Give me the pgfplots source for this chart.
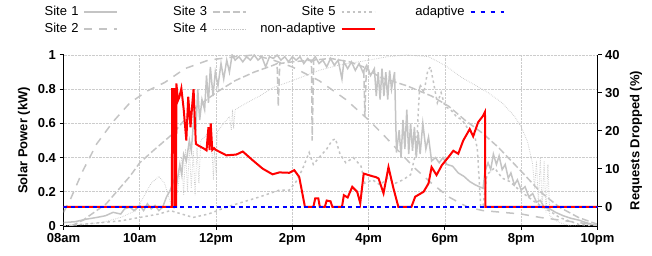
\documentclass[border=0pt]{standalone}
\usepackage{pgfplots}
\pgfplotsset{compat=1.18}
\usepackage{fontspec}
\setmainfont{Liberation Sans}
\definecolor{sg}{RGB}{196,196,196}
\begin{document}
\begin{tikzpicture}[font=\fontsize{13pt}{15pt}\selectfont]
\useasboundingbox (-63.5pt,-30pt) rectangle (588.5pt,226pt);
\begin{axis}[
 at={(0pt,0pt)}, anchor=south west, scale only axis, width=534pt, height=171pt,
 xmin=8, xmax=22, ymin=0, ymax=1,
 axis x line*=bottom, axis y line*=left,
 axis line style={-, line width=1.2pt},
 xtick={8,10,12,14,16,18,20,22}, xticklabels={08am,10am,12pm,2pm,4pm,6pm,8pm,10pm},
 ytick={0,0.2,0.4,0.6,0.8,1}, yticklabels={0,0.2,0.4,0.6,0.8,1},
 tick align=outside, major tick length=4pt,
 every tick/.style={black, line width=1pt},
 ticklabel style={font=\fontsize{13pt}{15pt}\selectfont\bfseries},
 grid=major, major grid style={densely dotted, gray!40, line width=0.6pt},
 ylabel={\bfseries Solar Power (kW)},
 ylabel style={at={(axis description cs:-0.074,0.5)}, anchor=center},
]
% Site 1
\addplot[sg, line width=1.5pt] coordinates {(8.0,0.02)(8.3,0.025)(8.6,0.04)(8.87,0.05)(9.1,0.06)(9.3,0.08)(9.5,0.07)(9.6,0.10)(9.74,0.11)(9.85,0.09)(10.0,0.12)(10.1,0.09)(10.2,0.13)(10.3,0.10)(10.4,0.12)(10.5,0.09)(10.6,0.11)(10.7,0.17)(10.8,0.21)(10.9,0.27)(10.95,0.22)(11.05,0.36)(11.1,0.30)(11.15,0.42)(11.22,0.38)(11.3,0.50)(11.35,0.44)(11.42,0.64)(11.47,0.56)(11.52,0.80)(11.57,0.62)(11.63,0.74)(11.7,0.68)(11.75,0.88)(11.8,0.72)(11.85,0.93)(11.92,0.76)(11.98,0.90)(12.05,0.82)(12.13,0.95)(12.2,0.86)(12.28,0.97)(12.35,0.90)(12.42,1.0)(12.5,0.97)(12.6,0.99)(12.7,0.96)(12.8,0.99)(12.9,0.97)(13.0,1.0)(13.1,0.97)(13.2,0.99)(13.3,0.93)(13.4,0.99)(13.5,0.98)(13.6,1.0)(13.7,0.97)(13.8,0.99)(13.9,0.96)(14.0,0.99)(14.1,0.97)(14.2,0.99)(14.3,0.95)(14.4,0.98)(14.5,0.96)(14.6,0.99)(14.7,0.95)(14.8,0.97)(14.9,0.93)(15.0,0.98)(15.1,0.94)(15.2,0.97)(15.3,0.86)(15.35,0.96)(15.45,0.92)(15.55,0.96)(15.65,0.91)(15.75,0.95)(15.85,0.90)(15.95,0.94)(16.05,0.88)(16.15,0.92)(16.2,0.76)(16.25,0.90)(16.3,0.74)(16.35,0.92)(16.4,0.76)(16.45,0.90)(16.5,0.74)(16.55,0.91)(16.6,0.80)(16.68,0.90)(16.73,0.43)(16.8,0.56)(16.85,0.40)(16.9,0.62)(16.95,0.45)(17.0,0.68)(17.05,0.42)(17.1,0.60)(17.15,0.44)(17.2,0.58)(17.25,0.40)(17.3,0.55)(17.35,0.42)(17.42,0.60)(17.5,0.45)(17.57,0.52)(17.65,0.38)(17.75,0.40)(17.85,0.37)(17.95,0.40)(18.05,0.36)(18.2,0.35)(18.35,0.31)(18.5,0.29)(18.65,0.26)(18.8,0.24)(18.9,0.23)(19.0,0.22)(19.05,0.32)(19.13,0.37)(19.2,0.33)(19.27,0.42)(19.35,0.36)(19.42,0.41)(19.5,0.33)(19.58,0.36)(19.66,0.28)(19.73,0.31)(19.82,0.24)(19.9,0.27)(20.0,0.21)(20.1,0.23)(20.2,0.17)(20.3,0.19)(20.4,0.14)(20.5,0.15)(20.6,0.11)(20.75,0.10)(20.9,0.08)(21.1,0.06)(21.3,0.045)(21.5,0.035)(21.7,0.02)(22.0,0.0)};
% Site 2
\addplot[sg, line width=1.5pt, dash pattern=on 8pt off 7pt] coordinates {(8.0,0.08)(8.17,0.15)(8.5,0.32)(8.87,0.48)(9.3,0.61)(9.74,0.72)(10.2,0.79)(10.66,0.84)(11.18,0.92)(11.8,0.97)(12.5,0.99)(13.0,1.0)(13.5,0.97)(14.0,0.93)(14.7,0.85)(15.4,0.74)(16.0,0.62)(16.4,0.53)(16.78,0.44)(17.2,0.34)(17.65,0.25)(18.1,0.17)(18.6,0.11)(19.0,0.09)(19.5,0.08)(20.0,0.07)(20.5,0.05)(21.0,0.035)(21.5,0.02)(22.0,0.005)};
% Site 3
\addplot[sg, line width=1.5pt, dash pattern=on 7pt off 3pt] coordinates {(8.2,0.0)(8.52,0.035)(9.12,0.13)(9.74,0.29)(10.0,0.37)(10.35,0.44)(10.87,0.54)(11.4,0.68)(12.0,0.78)(12.5,0.85)(13.0,0.90)(13.5,0.94)(13.6,0.95)(13.63,0.70)(13.67,0.95)(14.0,0.96)(14.5,0.97)(14.52,0.50)(14.56,0.97)(15.0,0.98)(15.5,0.96)(15.87,0.93)(15.9,0.64)(15.94,0.92)(16.3,0.87)(17.0,0.82)(17.65,0.76)(18.1,0.70)(18.52,0.62)(19.0,0.54)(19.4,0.46)(20.0,0.32)(20.5,0.20)(21.0,0.11)(21.5,0.05)(22.0,0.01)};
% Site 4
\addplot[sg, line width=0.8pt, dash pattern=on 0.6pt off 1.2pt] coordinates {(8.0,0.0)(8.5,0.01)(9.0,0.02)(9.5,0.05)(9.9,0.09)(10.1,0.17)(10.3,0.25)(10.5,0.29)(10.65,0.25)(10.8,0.14)(10.9,0.10)(11.0,0.22)(11.1,0.40)(11.15,0.18)(11.2,0.45)(11.25,0.20)(11.3,0.46)(11.35,0.22)(11.4,0.44)(11.45,0.18)(11.5,0.46)(11.55,0.25)(11.6,0.50)(11.7,0.52)(11.8,0.55)(11.9,0.42)(11.93,0.27)(11.96,0.45)(12.0,0.30)(12.03,0.55)(12.2,0.60)(12.35,0.64)(12.4,0.56)(12.43,0.68)(12.46,0.57)(12.5,0.68)(12.8,0.72)(13.14,0.76)(13.5,0.81)(14.0,0.85)(14.7,0.91)(15.2,0.94)(16.0,0.97)(16.5,0.99)(17.0,1.0)(17.57,0.99)(18.0,0.94)(18.43,0.87)(19.13,0.78)(19.5,0.72)(19.83,0.64)(20.0,0.58)(20.17,0.49)(20.3,0.36)(20.35,0.22)(20.4,0.38)(20.45,0.12)(20.5,0.40)(20.55,0.10)(20.6,0.38)(20.65,0.08)(20.7,0.36)(20.75,0.06)(20.85,0.04)(21.0,0.02)(21.3,0.0)(22,0.0)};
% Site 5
\addplot[sg, line width=1.5pt, dash pattern=on 2.5pt off 3pt] coordinates {(8.0,0.0)(8.5,0.01)(9.0,0.02)(9.5,0.03)(10.0,0.05)(10.5,0.07)(10.8,0.09)(11.1,0.07)(11.4,0.05)(11.8,0.07)(12.27,0.11)(12.7,0.14)(13.14,0.17)(13.4,0.19)(13.66,0.21)(13.92,0.21)(14.1,0.26)(14.26,0.33)(14.44,0.43)(14.55,0.36)(14.7,0.40)(14.9,0.45)(15.04,0.50)(15.13,0.51)(15.25,0.42)(15.4,0.37)(15.6,0.40)(15.8,0.35)(15.9,0.25)(16.1,0.27)(16.3,0.24)(16.5,0.28)(16.7,0.25)(16.9,0.27)(17.1,0.30)(17.25,0.44)(17.34,0.83)(17.45,0.78)(17.55,0.91)(17.62,0.93)(17.7,0.84)(17.8,0.72)(17.9,0.78)(18.0,0.70)(18.15,0.68)(18.3,0.64)(18.45,0.62)(18.6,0.57)(18.77,0.54)(18.85,0.45)(18.94,0.11)(19.0,0.12)(19.1,0.30)(19.3,0.34)(19.5,0.28)(19.7,0.26)(20.0,0.2)(20.3,0.15)(20.5,0.12)(20.8,0.08)(21.0,0.05)(21.5,0.01)(22.0,0.0)};
\end{axis}
\begin{axis}[
 at={(0pt,0pt)}, anchor=south west, scale only axis, width=534pt, height=171pt,
 xmin=8, xmax=22, ymin=-5, ymax=40,
 axis y line*=right, axis x line=none,
 axis line style={-, line width=1.2pt},
 ytick={0,10,20,30,40}, yticklabels={0,10,20,30,40},
 tick align=outside, major tick length=4pt,
 every tick/.style={black, line width=1pt},
 ticklabel style={font=\fontsize{13pt}{15pt}\selectfont\bfseries},
 ylabel={\bfseries Requests Dropped (\%)},
 ylabel style={at={(axis description cs:1.072,0.5)}, anchor=center},
 legend columns=4,
 legend plot pos=right,
 legend image code/.code={\draw[#1] (0pt,0pt) -- (33pt,0pt);},
 legend style={draw=none, fill=none, inner sep=0pt, outer sep=0pt,
   at={(axis description cs:0.826,1.301)}, anchor=north east,
   font=\fontsize{13pt}{15pt}\selectfont,
   nodes={inner xsep=0pt, inner ysep=2pt, text height=10pt, text depth=3pt},
   /tikz/column sep=0pt,
   /tikz/every odd column/.append style={text width=89pt, align=right, column sep=5pt}},
]
\addlegendimage{sg, line width=1.5pt}\addlegendentry{Site 1}
\addlegendimage{sg, line width=1.5pt, dash pattern=on 7pt off 3pt}\addlegendentry{Site 3}
\addlegendimage{sg, line width=1.5pt, dash pattern=on 2.5pt off 3pt}\addlegendentry{Site 5}
\addlegendimage{blue, line width=2pt, dash pattern=on 4pt off 6pt}\addlegendentry{adaptive}
\addlegendimage{sg, line width=1.5pt, dash pattern=on 8pt off 7pt}\addlegendentry{Site 2}
\addlegendimage{sg, line width=0.8pt, dash pattern=on 0.6pt off 1.2pt}\addlegendentry{Site 4}
\addlegendimage{red, line width=2pt}\addlegendentry{non-adaptive}
% non-adaptive
\addplot[red, line width=2pt, forget plot] coordinates {(8,0)(10.84,0)(10.85,31)(10.9,31)(10.91,0)(10.95,0)(10.96,32.5)(11.0,28)(11.04,29)(11.09,31.2)(11.15,25.8)(11.22,17.5)(11.27,29)(11.33,21)(11.38,27.5)(11.41,31)(11.47,16.6)(11.53,16.2)(11.66,15.5)(11.75,14.9)(11.8,21)(11.83,15)(11.86,22)(11.9,15)(11.95,15.5)(12.0,15)(12.27,13.6)(12.53,13.8)(12.7,14.6)(12.96,12.3)(13.22,10.1)(13.48,8.6)(13.66,9.1)(13.92,9)(14.05,9.7)(14.18,7.9)(14.33,0)(14.55,0)(14.6,2.3)(14.68,2.3)(14.72,0)(14.85,0)(14.9,1.7)(15.0,1.5)(15.05,0)(15.3,0)(15.35,3.1)(15.45,2.5)(15.57,5.3)(15.7,4)(15.78,1)(15.87,8.8)(16.0,8.4)(16.1,8.1)(16.18,7.9)(16.26,7.5)(16.39,3.6)(16.52,10.5)(16.65,4.9)(16.78,0)(17.12,0)(17.22,2.7)(17.44,4)(17.57,6.2)(17.65,10.5)(17.78,8.4)(17.92,11)(18.09,13.1)(18.22,14.8)(18.35,14)(18.48,17.5)(18.65,20.5)(18.74,18.6)(18.87,22.3)(19.0,24)(19.05,25)(19.06,0)(22,0)};
% adaptive
\addplot[blue, line width=2pt, dash pattern=on 4pt off 3.3pt, forget plot] coordinates {(8,0)(22,0)};
\end{axis}
\end{tikzpicture}
\end{document}
